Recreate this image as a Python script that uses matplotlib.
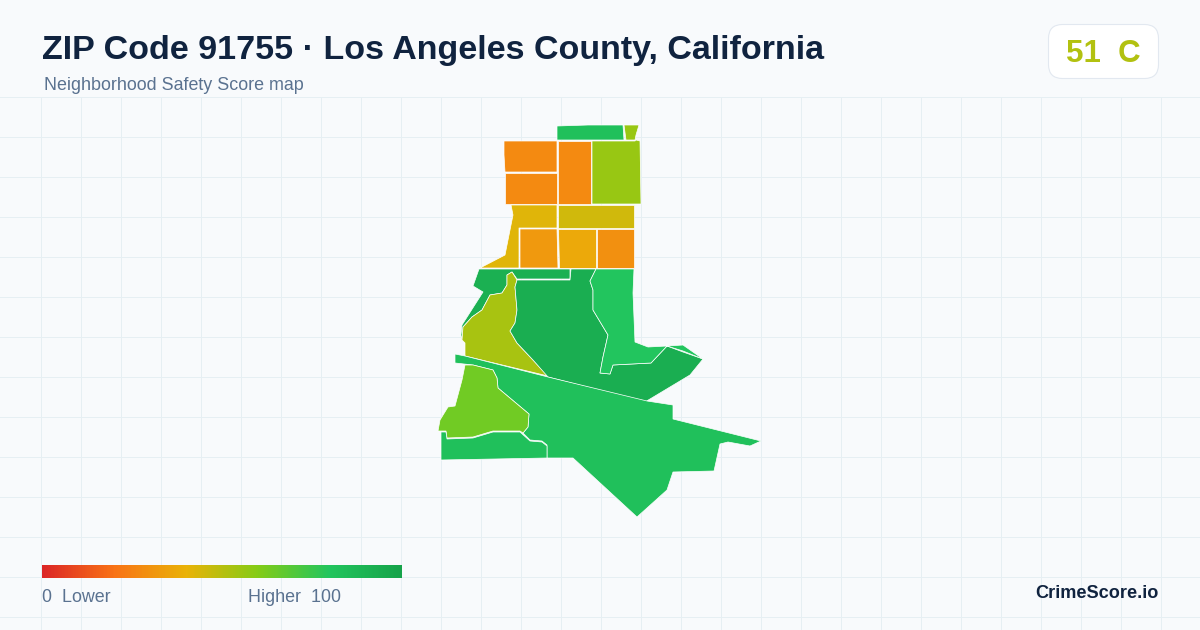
import numpy as np
import matplotlib
matplotlib.use("Agg")
import matplotlib.pyplot as plt
from matplotlib.colors import LinearSegmentedColormap
from matplotlib.patches import Polygon, FancyBboxPatch

plt.rcParams['font.family'] = ['Liberation Sans', 'DejaVu Sans']

title = "ZIP Code 91755 · Los Angeles County, California"
subtitle = "Neighborhood Safety Score map"
overall_score = 51
overall_grade = "C"
brand = "CrimeScore.io"

# Colour scale stops
scale_positions = [0, 0.2, 0.4, 0.6, 0.8, 1.0]
scale_colors = ["#dc2626", "#f97316", "#eab308", "#84cc16", "#22c55e", "#16a34a"]

# Area scores and boundaries (map outline in image coordinates)
scores = {
    "n_top": 83, "n_tip": 56, "nw1": 27, "nw2": 27, "n_mid": 27, "ne": 56,
    "west_band": 42, "mid_band": 45, "c1": 32, "c2": 37, "c3": 29,
    "strip": 92, "olive": 53, "center": 93, "east": 80, "big": 83,
    "lime": 64, "sw": 83,
}
boundaries = {
    "n_top": [(557,126),(588,125),(623,125),(624,140),(557,140)],
    "n_tip": [(624,125),(639,125),(636,135),(635,140),(626,140)],
    "nw1": [(504,141),(557,141),(557,172),(505,172),(504,155)],
    "nw2": [(505,173),(557,173),(557,204),(505,204)],
    "n_mid": [(558,141),(591,141),(591,204),(558,204)],
    "ne": [(592,141),(635,141),(636,140),(640,141),(641,204),(592,204)],
    "west_band": [(511,205),(557,205),(557,228),(519,228),(519,268),(480,268),
                  (505,255),(510,230),(513,215)],
    "mid_band": [(558,205),(634,205),(634,228),(558,228)],
    "c1": [(520,229),(557,229),(558,268),(520,268)],
    "c2": [(558,229),(596,229),(596,268),(559,268)],
    "c3": [(597,229),(634,229),(634,268),(597,268)],
    "strip": [(479,269),(570,269),(570,279),(517,279),(512,272),(507,275),(507,285),
              (502,293),(490,295),(482,310),(472,317),(463,327),(462,340),(461,335),
              (462,325),(483,292),(473,286)],
    "olive": [(512,272),(517,280),(515,287),(517,310),(515,323),(510,331),(517,343),
              (533,360),(548,376),(465,356),(465,343),(462,340),(463,327),(472,317),
              (482,310),(490,295),(502,293),(507,285),(507,275)],
    "center": [(571,269),(596,269),(590,281),(593,290),(593,310),(608,335),(603,357),
               (600,373),(610,374),(613,365),(651,363),(667,346),(683,352),(703,359),
               (690,375),(645,402),(548,377),(533,360),(517,343),(510,331),(515,323),
               (517,310),(515,287),(517,280),(570,280)],
    "east": [(596,269),(634,269),(633,293),(635,342),(648,347),(667,346),(683,345),
             (703,359),(683,351),(667,346),(651,363),(613,365),(610,374),(600,373),
             (603,357),(608,335),(593,310),(593,290),(590,281)],
    "big": [(455,354),(465,356),(548,377),(647,401),(673,405),(673,419),(761,441),
            (750,446),(728,442),(720,444),(714,471),(673,472),(667,490),(637,517),
            (573,458),(547,458),(547,445),(542,441),(530,440),(523,433),(528,427),
            (529,414),(498,388),(497,378),(493,370),(473,365),(455,363)],
    "lime": [(465,365),(473,365),(493,370),(497,378),(498,388),(529,414),(528,427),
             (523,433),(520,431),(493,431),(473,437),(447,438),(446,431),(438,431),
             (440,420),(448,407),(455,406),(462,380)],
    "sw": [(441,432),(446,432),(447,439),(473,438),(493,432),(520,432),(530,441),
           (542,442),(547,446),(547,458),(495,459),(441,460)],
}

cmap = LinearSegmentedColormap.from_list("safety", list(zip(scale_positions, scale_colors)))
W, H = 1200, 630

fig = plt.figure(figsize=(12, 6.3), dpi=100, facecolor="#f8fafc")
ax = fig.add_axes([0, 0, 1, 1])
ax.set_xlim(0, W)
ax.set_ylim(H, 0)
ax.axis("off")

# Background grid
grid_color = "#e6eff3"
for x in np.arange(40.5, W, 40):
    ax.plot([x, x], [97, H], color=grid_color, lw=0.72, zorder=1)
for y in np.arange(96.5, H, 40):
    ax.plot([0, W], [y, y], color=grid_color, lw=0.72, zorder=1)

# Areas
for name, pts in boundaries.items():
    ax.add_patch(Polygon(pts, closed=True, facecolor=cmap(scores[name] / 100),
                         edgecolor="white", lw=0.5, joinstyle="round", zorder=3))

# Headings
ax.text(41.5, 58.5, title, fontsize=24.5, fontweight="bold", color="#10233f", va="baseline", ha="left", zorder=5)
ax.text(44, 85.5, subtitle, fontsize=12.9, color="#5a7290", va="center", ha="left", zorder=5)

# Score badge
ax.add_patch(FancyBboxPatch((1048.5, 24.5), 110, 54, boxstyle="round,pad=0,rounding_size=14",
                            facecolor="white", edgecolor="#e2e8f0", lw=0.8, zorder=4))
ax.text(1103.5, 61.5, f"{overall_score}  {overall_grade}", fontsize=22.5, fontweight="bold",
        color=cmap(overall_score / 100), ha="center", va="baseline", zorder=5)

# Colour scale
grad = np.linspace(0, 1, 360).reshape(1, -1)
ax.imshow(grad, extent=(42, 402, 578, 565), cmap=cmap, vmin=0, vmax=1, aspect="auto", zorder=4)
ax.set_xlim(0, W)
ax.set_ylim(H, 0)
ax.text(42, 597.5, "0  Lower", fontsize=12.9, color="#5a7290", ha="left", va="center", zorder=5)
ax.text(341.5, 597.5, "Higher  100", fontsize=12.9, color="#5a7290", ha="right", va="center", zorder=5)
ax.text(1158.5, 593.5, brand, fontsize=13.1, fontweight="bold", color="#10233f", ha="right", va="center", zorder=5)

fig.savefig("out.png", dpi=100, facecolor=fig.get_facecolor())
